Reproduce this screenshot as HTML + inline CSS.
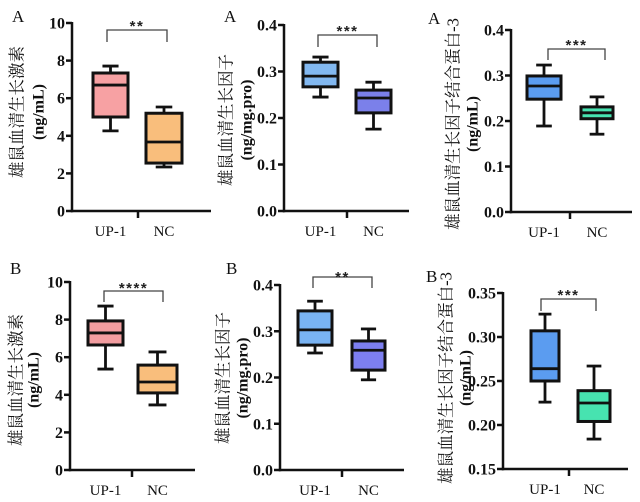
<!DOCTYPE html>
<html><head><meta charset="utf-8"><style>
html,body{margin:0;padding:0;background:#fff;}
svg{display:block;}
</style></head><body>
<svg id="fig" width="640" height="502" viewBox="0 0 640 502" xmlns="http://www.w3.org/2000/svg"></svg>
<script>
// data arrays: [lowWhisker, q1, median, q3, highWhisker]
const categories = ["UP-1","NC"];
const p1UP = [4.26,5.0,6.70,7.34,7.71];
const p1NC = [2.34,2.55,3.67,5.2,5.53];
const p2UP = [0.245,0.267,0.290,0.320,0.331];
const p2NC = [0.176,0.211,0.243,0.260,0.277];
const p3UP = [0.189,0.248,0.277,0.299,0.323];
const p3NC = [0.171,0.205,0.218,0.231,0.253];
const p4UP = [5.37,6.65,7.29,7.93,8.72];
const p4NC = [3.46,4.1,4.68,5.58,6.28];
const p5UP = [0.253,0.270,0.303,0.344,0.365];
const p5NC = [0.195,0.216,0.259,0.279,0.305];
const p6UP = [0.226,0.250,0.264,0.307,0.326];
const p6NC = [0.184,0.204,0.225,0.239,0.267];
const ticks1 = ["0","2","4","6","8","10"];
const ticks2 = ["0.0","0.1","0.2","0.3","0.4"];
const ticks6 = ["0.15","0.20","0.25","0.30","0.35"];
const sig = ["**","***","***","****","**","***"];

const NS="http://www.w3.org/2000/svg";
const svg=document.getElementById('fig');
function mk(tag,attrs,parent){const e=document.createElementNS(NS,tag);for(const k in attrs)e.setAttribute(k,attrs[k]);(parent||svg).appendChild(e);return e;}

const panels=[
 {id:1,letter:"A",lx:12,ly:22,ax:72,y0:211,y1:23,vmin:0,vmax:10,xe:211,mid:138,ticks:ticks1,data:[p1UP,p1NC],box:[[93,128],[146,182]],col:["#f7a1a3","#f9be7c"],br:[107,167,30,42],st:24,t1:"雄鼠血清生长激素",t2:"(ng/mL)",tx:[17,39],ty:112},
 {id:2,letter:"A",lx:224,ly:22,ax:284,y0:211,y1:25,vmin:0,vmax:0.4,xe:409,mid:347,ticks:ticks2,data:[p2UP,p2NC],box:[[303,338],[356,391]],col:["#82b8f0","#7b80ea"],br:[318,377,35,47],st:29,t1:"雄鼠血清生长因子",t2:"(ng/mg.pro)",tx:[226,247],ty:120},
 {id:3,letter:"A",lx:428,ly:24,ax:511,y0:212,y1:30,vmin:0,vmax:0.4,xe:632,mid:570,ticks:ticks2,data:[p3UP,p3NC],box:[[527,561],[581,613]],col:["#5b9cf0","#47e3b0"],br:[548,605,49,60],st:43,t1:"雄鼠血清生长因子结合蛋白-3",t2:"(ng/mL)",tx:[453,473],ty:124},
 {id:4,letter:"B",lx:10,ly:274,ax:70,y0:470,y1:282,vmin:0,vmax:10,xe:195,mid:132,ticks:ticks1,data:[p4UP,p4NC],box:[[88,123],[138,177]],col:["#f29da0","#f9be7c"],br:[104,163,291,302],st:286,t1:"雄鼠血清生长激素",t2:"(ng/mL)",tx:[16,34],ty:380},
 {id:5,letter:"B",lx:226,ly:274,ax:280,y0:470,y1:285,vmin:0,vmax:0.4,xe:404,mid:342,ticks:ticks2,data:[p5UP,p5NC],box:[[298,332],[352,385]],col:["#79b3f2","#7d7ff0"],br:[313,372,277,288],st:275,t1:"雄鼠血清生长因子",t2:"(ng/mg.pro)",tx:[223,243],ty:378},
 {id:6,letter:"B",lx:426,ly:282,ax:503,y0:469,y1:293,vmin:0.15,vmax:0.35,xe:628,mid:569,ticks:ticks6,data:[p6UP,p6NC],box:[[531,559],[578,610]],col:["#5b9cf0","#47e3b0"],br:[541,596,299,311],st:293,t1:"雄鼠血清生长因子结合蛋白-3",t2:"(ng/mL)",tx:[446,466],ty:378}
];

panels.forEach((p,pi)=>{
  const g=mk('g',{});
  
  
  const yS=v=>p.y0-(v-p.vmin)/(p.vmax-p.vmin)*(p.y0-p.y1);
  const L=mk('text',{x:p.lx,y:p.ly,'font-family':'Liberation Serif, serif','font-size':17,fill:'#111'},g);
  L.textContent=p.letter;
  
  
  const t=mk('text',{x:p.tx[0],y:p.ty,transform:`rotate(-90 ${p.tx[0]} ${p.ty})`,'text-anchor':'middle','dominant-baseline':'central','font-family':'Liberation Serif, Noto Serif CJK SC, Noto Sans CJK SC, serif','font-size':16.5,fill:'#111'},g);
  t.textContent=p.t1;
  
  
  const t2=mk('text',{x:p.tx[1],y:p.ty,transform:`rotate(-90 ${p.tx[1]} ${p.ty})`,'text-anchor':'middle','dominant-baseline':'central','font-family':'Liberation Serif, serif','font-weight':'bold','font-size':16,fill:'#111'},g);
  t2.textContent=p.t2;
  
  
  const ya=mk('line',{x1:p.ax,y1:p.y1-1,x2:p.ax,y2:p.y0+1.2,stroke:'#111','stroke-width':2.5},g);
  
  
  const xa=mk('line',{x1:p.ax-1.2,y1:p.y0,x2:p.xe,y2:p.y0,stroke:'#111','stroke-width':2.5},g);
  
  
  const mt=mk('line',{x1:p.mid,y1:p.y0,x2:p.mid,y2:p.y0+7,stroke:'#111','stroke-width':2.5},g);
  
  
  p.ticks.forEach(lbl=>{
    const v=parseFloat(lbl),y=yS(v);
    const tk=mk('line',{x1:p.ax-6,y1:y,x2:p.ax,y2:y,stroke:'#111','stroke-width':2.5},g);
    
    
    const tl=mk('text',{x:p.ax-7,y:y+5.5,'text-anchor':'end','font-family':'Liberation Serif, serif','font-weight':'bold','font-size':16,fill:'#111'},g);
    tl.textContent=lbl;
    
    
  });
  p.data.forEach((d,i)=>{
    const [bx0,bx1]=p.box[i],cx=(bx0+bx1)/2,hw=(bx1-bx0)*0.23;
    const bg=mk('g',{},g);
    
    
    mk('line',{x1:cx,y1:yS(d[4]),x2:cx,y2:yS(d[3]),stroke:'#111','stroke-width':2.8},bg);
    mk('line',{x1:cx,y1:yS(d[1]),x2:cx,y2:yS(d[0]),stroke:'#111','stroke-width':2.8},bg);
    mk('line',{x1:cx-hw,y1:yS(d[4]),x2:cx+hw,y2:yS(d[4]),stroke:'#111','stroke-width':2.8},bg);
    mk('line',{x1:cx-hw,y1:yS(d[0]),x2:cx+hw,y2:yS(d[0]),stroke:'#111','stroke-width':2.8},bg);
    mk('rect',{x:bx0,y:yS(d[3]),width:bx1-bx0,height:yS(d[1])-yS(d[3]),fill:p.col[i],stroke:'#111','stroke-width':3},bg);
    mk('line',{x1:bx0,y1:yS(d[2]),x2:bx1,y2:yS(d[2]),stroke:'#111','stroke-width':2.8},bg);
    const cl=mk('text',{x:cx,y:p.y0+25,'text-anchor':'middle','font-family':'Liberation Serif, serif','font-size':15,fill:'#111'},g);
    cl.textContent=categories[i];
    
    
  });
  const b=p.br;
  const bk=mk('polyline',{points:`${b[0]},${b[3]} ${b[0]},${b[2]} ${b[1]},${b[2]} ${b[1]},${b[3]}`,fill:'none',stroke:'#444','stroke-width':1.3},g);
  
  
  const s=mk('text',{x:(b[0]+b[1])/2,y:p.st+7,'text-anchor':'middle','font-family':'Liberation Sans, sans-serif','font-weight':'bold','font-size':15,'letter-spacing':'1.5',fill:'#222'},g);
  s.textContent=sig[pi];
  
  
});
</script>
</body></html>
